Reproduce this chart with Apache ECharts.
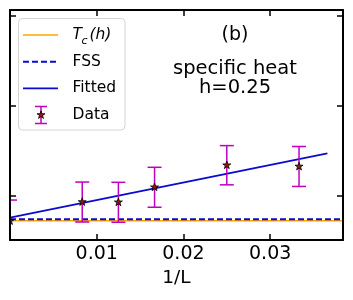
<!DOCTYPE html>
<html>
<head>
<meta charset="utf-8">
<script src="https://cdn.jsdelivr.net/npm/echarts@6/dist/echarts.min.js"></script>
<style>html,body{margin:0;padding:0;background:#fff;}#c{width:353px;height:300px;}</style>
</head>
<body>
<div id="c"></div>
<script>
// ---- data ----
var invL = [0, 0.00833, 0.0125, 0.01667, 0.025, 0.03333];   // 1/L
var peakT = [0.9722, 0.9933, 0.9930, 1.0097, 1.0342, 1.0328]; // data values
var peakErr = [0.0233, 0.0222, 0.0222, 0.0222, 0.0218, 0.0222];
var tcValue = 0.9726;      // T_c(h)
var fssValue = 0.9741;     // FSS
var fitX = [0, 0.0366];    // fitted line end points
var fitY = [0.9759, 1.0474];
var xTicks = [0.01, 0.02, 0.03];
var yTicks = [1.0, 1.1, 1.2];
var xMin = 0, xMax = 0.0384, yMin = 0.9511, yMax = 1.2067;

var FONT = 'DejaVu Sans';
var pts = invL.map(function (x, i) { return [x, peakT[i], peakErr[i]]; });

function starPoints(cx, cy, R) {
  var r = R * 0.382, out = [];
  for (var k = 0; k < 10; k++) {
    var ang = -Math.PI / 2 + k * Math.PI / 5;
    var rad = (k % 2 === 0) ? R : r;
    out.push([cx + rad * Math.cos(ang), cy + rad * Math.sin(ang)]);
  }
  return out;
}
function clampX(v, a, b) { return Math.max(a, Math.min(b, v)); }

var chart = echarts.init(document.getElementById('c'), null, {renderer: 'canvas'});
var axisLineStyle = {color: '#000', width: 2};
var tickStyle = {color: '#000', width: 1.5};

var option = {
  animation: false,
  backgroundColor: '#fff',
  grid: {left: 10, right: 10, top: 10, bottom: 60, containLabel: false},
  xAxis: [{
    type: 'value', min: xMin, max: xMax, position: 'bottom', z: 10,
    name: '1/L', nameLocation: 'middle', nameGap: 29,
    nameTextStyle: {fontFamily: FONT, fontSize: 18.5, color: '#000'},
    axisLine: {show: true, onZero: false, lineStyle: axisLineStyle},
    axisTick: {show: true, inside: true, length: 6, lineStyle: tickStyle, customValues: xTicks},
    axisLabel: {show: true, fontFamily: FONT, fontSize: 19, color: '#000', margin: 5,
      customValues: xTicks, formatter: function (v) { return v.toFixed(2); }},
    splitLine: {show: false}
  }, {
    type: 'value', min: xMin, max: xMax, position: 'top', z: 10,
    axisLine: {show: true, onZero: false, lineStyle: axisLineStyle},
    axisTick: {show: true, inside: true, length: 6, lineStyle: tickStyle, customValues: xTicks},
    axisLabel: {show: false},
    splitLine: {show: false}
  }],
  yAxis: [{
    type: 'value', min: yMin, max: yMax, position: 'left', z: 10,
    axisLine: {show: true, onZero: false, lineStyle: axisLineStyle},
    axisTick: {show: true, inside: true, length: 6, lineStyle: tickStyle, customValues: yTicks},
    axisLabel: {show: false},
    splitLine: {show: false}
  }, {
    type: 'value', min: yMin, max: yMax, position: 'right', z: 10,
    axisLine: {show: true, onZero: false, lineStyle: axisLineStyle},
    axisTick: {show: true, inside: true, length: 6, lineStyle: tickStyle, customValues: yTicks},
    axisLabel: {show: false},
    splitLine: {show: false}
  }],
  series: [{
    name: 'Tc', type: 'line', symbol: 'none', z: 2,
    data: [[xMin, tcValue], [xMax, tcValue]],
    lineStyle: {color: '#ffa500', width: 1.5}
  }, {
    name: 'FSS', type: 'line', symbol: 'none', z: 3,
    data: [[xMin, fssValue], [xMax, fssValue]],
    lineStyle: {color: '#0a0ad0', width: 2, type: [6, 3]}
  }, {
    name: 'Fitted', type: 'line', symbol: 'none', z: 4,
    data: [[fitX[0], fitY[0]], [fitX[1], fitY[1]]],
    lineStyle: {color: '#0a0ad0', width: 1.7}
  }, {
    name: 'Data', type: 'custom', z: 5, clip: true,
    data: pts,
    renderItem: function (params, api) {
      var x = api.value(0), y = api.value(1), e = api.value(2);
      var c = api.coord([x, y]);
      var top = api.coord([x, y + e]);
      var bot = api.coord([x, y - e]);
      var cs = params.coordSys;
      var x0 = cs.x, x1 = cs.x + cs.width, y0 = cs.y, y1 = cs.y + cs.height;
      var hw = 7;
      var st = {stroke: '#bf00bf', lineWidth: 1.5};
      var ch = [];
      ch.push({type: 'line', shape: {x1: top[0], y1: clampX(top[1], y0, y1), x2: bot[0], y2: clampX(bot[1], y0, y1)}, style: st});
      [top, bot].forEach(function (p) {
        if (p[1] >= y0 && p[1] <= y1) {
          ch.push({type: 'line', shape: {x1: clampX(p[0] - hw, x0, x1), y1: p[1], x2: clampX(p[0] + hw, x0, x1), y2: p[1]}, style: st});
        }
      });
      var sp = starPoints(c[0], c[1], 4.2).map(function (q) { return [clampX(q[0], x0, x1), clampX(q[1], y0, y1)]; });
      ch.push({type: 'polygon', shape: {points: sp}, style: {fill: '#9a1515', stroke: '#000', lineWidth: 0.8}});
      return {type: 'group', children: ch};
    }
  }],
  graphic: [
    // annotation texts
    {type: 'text', x: 235, y: 35.5, style: {text: '(b)', fontFamily: FONT, fontSize: 19, fill: '#000', align: 'center', verticalAlign: 'middle'}},
    {type: 'text', x: 235, y: 68.5, style: {text: 'specific heat', fontFamily: FONT, fontSize: 19.5, fill: '#000', align: 'center', verticalAlign: 'middle'}},
    {type: 'text', x: 235, y: 87.5, style: {text: 'h=0.25', fontFamily: FONT, fontSize: 19.5, fill: '#000', align: 'center', verticalAlign: 'middle'}},
    // legend frame
    {type: 'rect', z: 20, shape: {x: 18.5, y: 18.5, width: 106.5, height: 111.5, r: 4},
      style: {fill: 'rgba(255,255,255,0.8)', stroke: '#d4d4d4', lineWidth: 1}},
    // legend handles
    {type: 'line', z: 21, shape: {x1: 23, y1: 35, x2: 58, y2: 35}, style: {stroke: '#ffa500', lineWidth: 1.5}},
    {type: 'line', z: 21, shape: {x1: 23, y1: 61.7, x2: 58, y2: 61.7}, style: {stroke: '#0a0ad0', lineWidth: 2, lineDash: [6, 3]}},
    {type: 'line', z: 21, shape: {x1: 23, y1: 88.3, x2: 58, y2: 88.3}, style: {stroke: '#0a0ad0', lineWidth: 1.7}},
    {type: 'line', z: 21, shape: {x1: 41, y1: 106.5, x2: 41, y2: 123.5}, style: {stroke: '#bf00bf', lineWidth: 1.5}},
    {type: 'line', z: 21, shape: {x1: 35, y1: 106.5, x2: 47, y2: 106.5}, style: {stroke: '#bf00bf', lineWidth: 1.5}},
    {type: 'line', z: 21, shape: {x1: 35, y1: 123.5, x2: 47, y2: 123.5}, style: {stroke: '#bf00bf', lineWidth: 1.5}},
    {type: 'polygon', z: 22, shape: {points: starPoints(41, 115, 4.2)}, style: {fill: '#9a1515', stroke: '#000', lineWidth: 0.8}},
    // legend labels
    {type: 'text', z: 21, x: 72.5, y: 35, style: {text: 'T', fontFamily: FONT, fontStyle: 'italic', fontSize: 15.5, fill: '#000', verticalAlign: 'middle'}},
    {type: 'text', z: 21, x: 81.5, y: 41, style: {text: 'c', fontFamily: FONT, fontStyle: 'italic', fontSize: 11, fill: '#000', verticalAlign: 'middle'}},
    {type: 'text', z: 21, x: 89.5, y: 35, style: {text: '(h)', fontFamily: FONT, fontStyle: 'italic', fontSize: 15.5, fill: '#000', verticalAlign: 'middle'}},
    {type: 'text', z: 21, x: 72.5, y: 61.7, style: {text: 'FSS', fontFamily: FONT, fontSize: 15.5, fill: '#000', verticalAlign: 'middle'}},
    {type: 'text', z: 21, x: 72.5, y: 88.3, style: {text: 'Fitted', fontFamily: FONT, fontSize: 15.5, fill: '#000', verticalAlign: 'middle'}},
    {type: 'text', z: 21, x: 72.5, y: 115, style: {text: 'Data', fontFamily: FONT, fontSize: 15.5, fill: '#000', verticalAlign: 'middle'}}
  ]
};
chart.setOption(option);
</script>
</body>
</html>
